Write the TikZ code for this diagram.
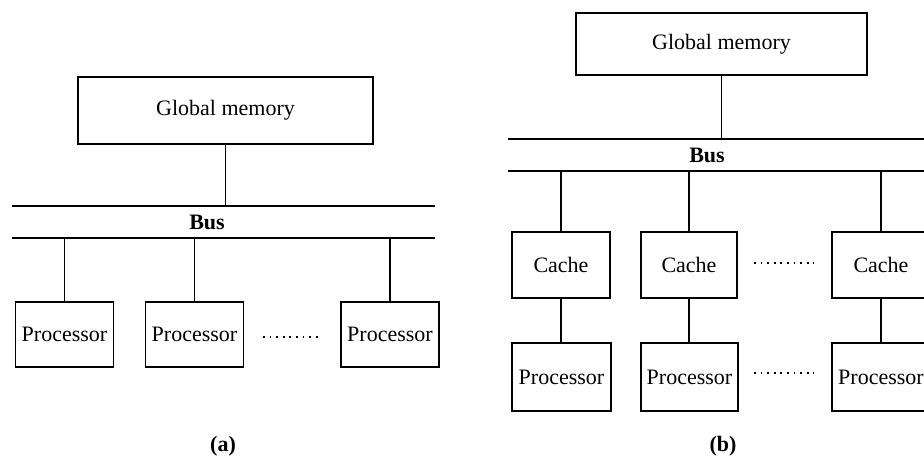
\documentclass[tikz,border=0pt]{standalone}
\usepackage{fontspec}
\setmainfont{Liberation Serif}
\begin{document}
\begin{tikzpicture}[x=0.5pt,y=-0.5pt,
  every node/.style={font=\fontsize{11}{13}\selectfont},
  box/.style={draw,line width=0.9pt,inner sep=0pt},
  gm/.style={box,minimum width=146pt,minimum height=32pt},
  pbox/.style={box,minimum width=49pt,minimum height=33pt},
  cbox/.style={box,minimum width=49pt,minimum height=33pt},
  wire/.style={line width=0.8pt},
  busline/.style={line width=0.9pt},
  dots/.style={line width=0.9pt,dash pattern=on 0.9pt off 2.4pt},
  lbl/.style={font=\fontsize{11}{13}\selectfont\bfseries}]
\useasboundingbox (0,0) rectangle (924,461);
\clip (0,0) rectangle (924,461);
% ---------- (a) ----------
\node[gm,minimum width=147.5pt,minimum height=33.5pt] (gmA) at (225.5,110.5) {Global memory};
\coordinate (aTl) at (12,206); \coordinate (aTr) at (435,206);
\coordinate (aBl) at (12,238); \coordinate (aBr) at (435,238);
\draw[busline] (aTl) -- (aTr);
\draw[busline] (aBl) -- (aBr);
\node[lbl] (busA) at (207,222) {Bus};
\draw[wire] (gmA.south) -- (gmA.south |- aTl);
\node[pbox,minimum height=32.5pt] (pA1) at (64.5,334.5) {Processor};
\node[pbox,minimum height=32.5pt] (pA2) at (194.5,334.5) {Processor};
\node[pbox,minimum height=32.5pt] (pA3) at (390,334.5) {Processor};
\foreach \n in {pA1,pA2,pA3} \draw[wire] (\n.north) -- (\n.north |- aBl);
\coordinate (dA1) at (263,337); \coordinate (dA2) at (322,337);
\draw[dots] (dA1) -- (dA2);
\node[lbl] (capA) at (223,446) {(a)};
% ---------- (b) ----------
\node[gm,minimum width=145.5pt,minimum height=31pt] (gmB) at (721.5,44) {Global memory};
\coordinate (bTl) at (508,139); \coordinate (bTr) at (930,139);
\coordinate (bBl) at (508,171); \coordinate (bBr) at (930,171);
\draw[busline] (bTl) -- (bTr);
\draw[busline] (bBl) -- (bBr);
\node[lbl] (busB) at (707,155) {Bus};
\draw[wire] (gmB.south) -- (gmB.south |- bTl);
\node[cbox] (cB1) at (561,265) {Cache\hspace{5pt}};
\node[cbox,minimum width=48pt] (cB2) at (689,265) {Cache\hspace{5pt}};
\node[cbox] (cB3) at (881,265) {Cache\hspace{5pt}};
\node[pbox,minimum height=34pt,minimum width=49.5pt] (pB1) at (561.5,377) {Processor};
\node[pbox,minimum height=34pt,minimum width=48.5pt] (pB2) at (689.5,377) {Processor};
\node[pbox,minimum height=34pt] (pB3) at (881,377) {Processor};
\foreach \n in {cB1,cB2,cB3} \draw[wire] (\n.north) -- (\n.north |- bBl);
\draw[wire] (cB1.south) -- (cB1.south |- pB1.north);
\draw[wire] (cB2.south) -- (cB2.south |- pB2.north);
\draw[wire] (cB3.south) -- (cB3.south |- pB3.north);
\coordinate (dB1) at (754,263); \coordinate (dB2) at (814,263);
\coordinate (dB3) at (754,373); \coordinate (dB4) at (814,373);
\draw[dots] (dB1) -- (dB2);
\draw[dots] (dB3) -- (dB4);
\node[lbl] (capB) at (723,446) {(b)};
\end{tikzpicture}
\end{document}
